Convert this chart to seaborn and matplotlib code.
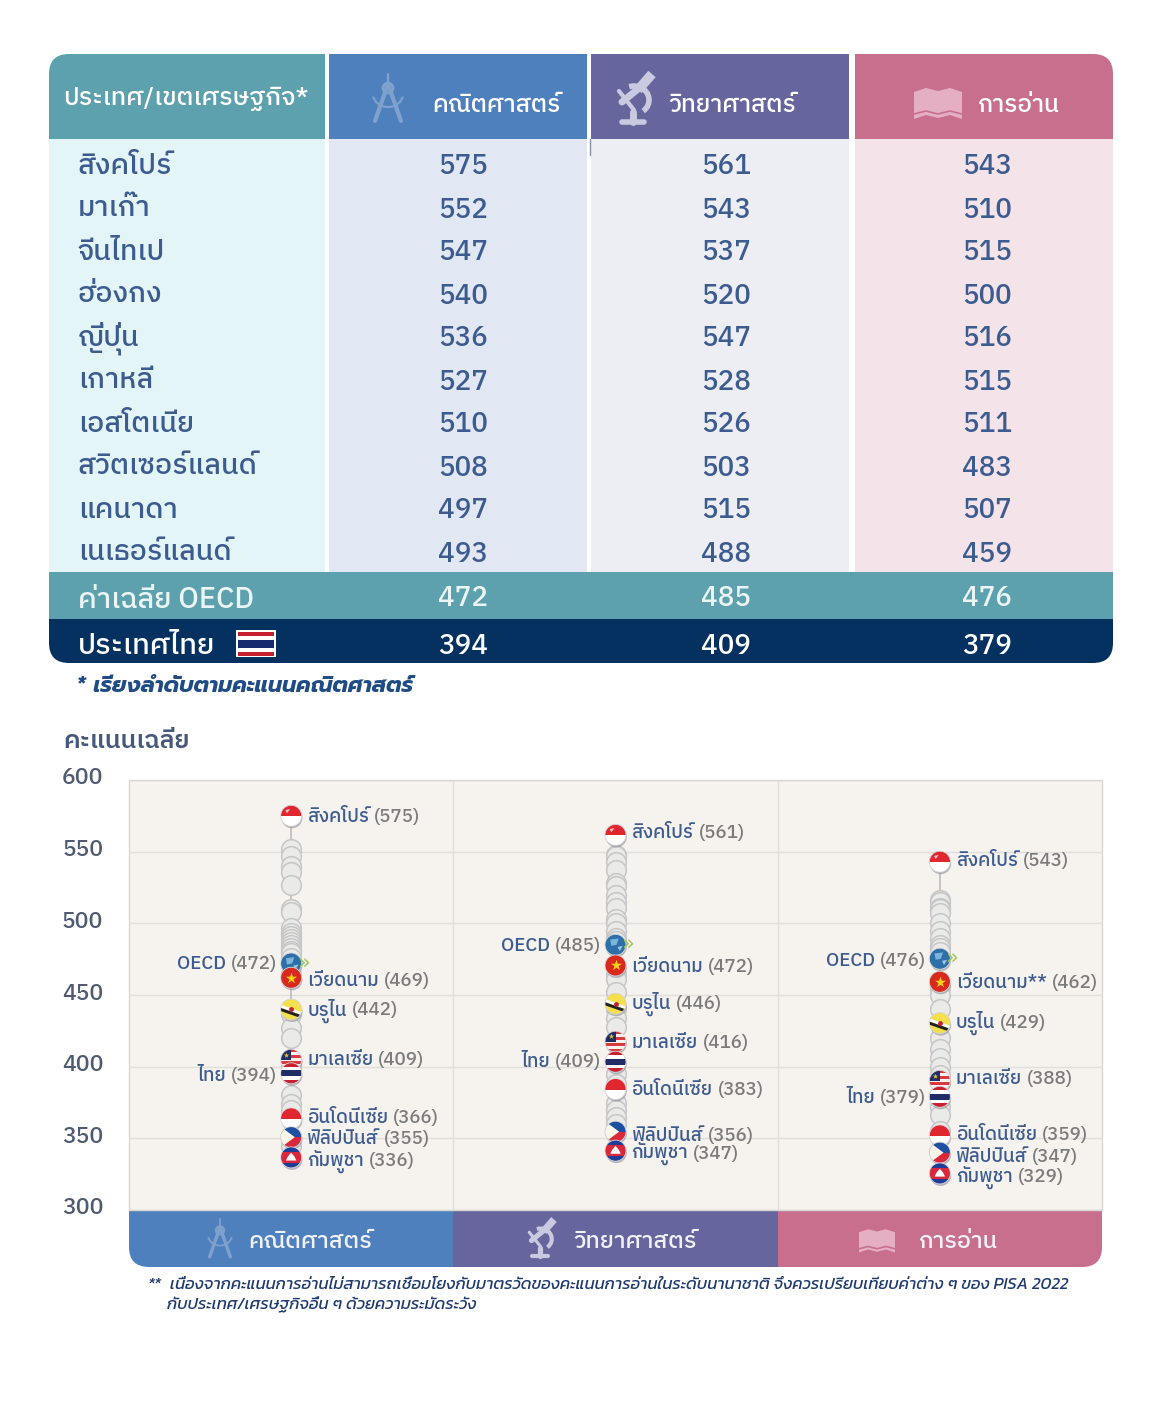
import matplotlib
matplotlib.use('Agg')
import matplotlib.pyplot as plt
from matplotlib.patches import Rectangle, FancyBboxPatch, Polygon, Ellipse, Arc, Circle
import matplotlib.transforms as mtrans
import pandas as pd
import seaborn as sns

# table data
subjects = ['คณิตศาสตร์', 'วิทยาศาสตร์', 'การอ่าน']
countries = ['สิงคโปร์', 'มาเก๊า', 'จีนไทเป', 'ฮ่องกง', 'ญี่ปุ่น', 'เกาหลี', 'เอสโตเนีย',
             'สวิตเซอร์แลนด์', 'แคนาดา', 'เนเธอร์แลนด์']
math_scores = [575, 552, 547, 540, 536, 527, 510, 508, 497, 493]
science_scores = [561, 543, 537, 520, 547, 528, 526, 503, 515, 488]
reading_scores = [543, 510, 515, 500, 516, 515, 511, 483, 507, 459]
oecd_scores = [472, 485, 476]
thai_scores = [394, 409, 379]

# unnamed grey circles of the dot columns
math_grey = [552, 547, 540, 536, 527, 510, 508, 497, 493, 491, 489, 487, 485, 483, 481, 479, 476,
             465, 437, 427, 420, 400, 380, 374, 370, 350, 345]
science_grey = [548, 547, 543, 537, 528, 526, 520, 515, 511, 503, 500, 495, 490, 488, 465, 461,
                452, 440, 434, 428, 395, 388, 375, 370, 365, 360]
reading_grey = [516, 515, 511, 510, 507, 500, 495, 490, 485, 483, 480, 455, 450, 440, 420, 412,
                406, 400, 394, 372, 366, 355]

# highlighted flags
flag_keys = ['sg', 'oecd', 'vn', 'bn', 'my', 'th', 'id', 'ph', 'kh']
flag_names = ['สิงคโปร์', 'OECD', 'เวียดนาม', 'บรูไน', 'มาเลเซีย', 'ไทย', 'อินโดนีเซีย', 'ฟิลิปปินส์', 'กัมพูชา']
flag_math = [575, 472, 469, 442, 409, 394, 366, 355, 336]
flag_science = [561, 485, 472, 446, 416, 409, 383, 356, 347]
flag_reading = [543, 476, 462, 429, 388, 379, 359, 347, 329]

# hand nudges of the infographic, pixels down
flag_nudge = [[0, 0, 10, 3, 6, -2, 3, 6, -1],
              [-1, 0, 2, 3, -2, 8, -2, 2, 8],
              [0, 1, 4, -2, -3, 0, 10, 10, 5]]
label_nudge = [[1, 1, 13, 4, 6, 1, 3, 8, 3],
               [-3, 1, 4, 3, -1, 8, -1, 6, 11],
               [-1, 3, 5, -2, -5, 1, 10, 14, 9]]

W, H = 1162, 1410
TEAL = '#5CA1AD'
BLUE = '#4F80BE'
PURPLE = '#66659E'
PINK = '#C86F8E'
NAVY = '#04315F'
TXT = '#3C5C90'
GREY = '#7B7B7B'
FONT = ['IBM Plex Sans Thai', 'DejaVu Sans']
ITALIC = ['Prompt', 'DejaVu Sans']
NOTE = ['Kanit', 'DejaVu Sans']

sns.set_theme(style='white')
plt.rcParams['font.family'] = FONT

fig = plt.figure(figsize=(W / 100, H / 100), dpi=100, facecolor='white')
bg = fig.add_axes([0, 0, 1, 1], zorder=0)
bg.set_xlim(0, W)
bg.set_ylim(H, 0)
bg.axis('off')


def clipped_rects(rects, x0, y0, x1, y1, r):
    clip = FancyBboxPatch((x0, y0), x1 - x0, y1 - y0, boxstyle=f'round,pad=0,rounding_size={r}',
                          fc='none', ec='none')
    bg.add_patch(clip)
    for (a, b, c, d, col) in rects:
        p = Rectangle((a, b), c - a, d - b, fc=col, ec='none')
        bg.add_patch(p)
        p.set_clip_path(clip)


def draw_compass(cx, cy, s, col):
    bg.plot([cx, cx - 13 * s], [cy - 16 * s, cy + 21 * s], color=col, lw=3 * s, solid_capstyle='round')
    bg.plot([cx, cx + 13 * s], [cy - 16 * s, cy + 21 * s], color=col, lw=3 * s, solid_capstyle='round')
    bg.plot([cx, cx], [cy - 26 * s, cy - 14 * s], color=col, lw=1.6 * s)
    bg.add_patch(Circle((cx, cy - 12 * s), 5 * s, fc='none', ec=col, lw=2 * s))
    bg.add_patch(Arc((cx, cy - 6 * s), 30 * s, 26 * s, theta1=10, theta2=170, ec=col, lw=1.6 * s))


def draw_microscope(cx, cy, s, col):
    bg.plot([cx - 14 * s, cx + 8 * s], [cy + 22 * s, cy + 22 * s], color=col, lw=4 * s, solid_capstyle='round')
    bg.plot([cx - 3 * s, cx - 3 * s], [cy + 12 * s, cy + 22 * s], color=col, lw=5 * s)
    bg.add_patch(Arc((cx - 2 * s, cy), 30 * s, 28 * s, theta1=-110, theta2=50, ec=col, lw=4 * s))
    bg.plot([cx + 2 * s, cx + 16 * s], [cy - 10 * s, cy - 26 * s], color=col, lw=7 * s, solid_capstyle='butt')
    bg.plot([cx - 14 * s, cx + 2 * s], [cy + 2 * s, cy - 11 * s], color=col, lw=5 * s, solid_capstyle='round')
    bg.plot([cx - 17 * s, cx - 2 * s], [cy - 9 * s, cy + 10 * s], color=col, lw=3 * s, solid_capstyle='round')


def draw_book(cx, cy, s, col, line):
    left = [(cx - 24 * s, cy - 13 * s), (cx - 12 * s, cy - 17 * s), (cx, cy - 14 * s),
            (cx, cy + 13 * s), (cx - 12 * s, cy + 10 * s), (cx - 24 * s, cy + 14 * s)]
    right = [(2 * cx - a, b) for a, b in left]
    bg.add_patch(Polygon(left, fc=col, ec='none'))
    bg.add_patch(Polygon(right, fc=col, ec='none'))
    bg.plot([cx - 24 * s, cx - 12 * s, cx, cx + 12 * s, cx + 24 * s],
            [cy + 9 * s, cy + 6 * s, cy + 9 * s, cy + 6 * s, cy + 9 * s], color=line, lw=1.2)


# table blocks
col_x = [(49, 325), (329, 587), (591, 849), (855, 1113)]
head_cols = [TEAL, BLUE, PURPLE, PINK]
body_cols = ['#E3F5F7', '#E1E7F3', '#ECEEF4', '#F5E3EA']
rects = []
for (a, c), hc, bc in zip(col_x, head_cols, body_cols):
    rects.append((a, 54, c, 139, hc))
    rects.append((a, 139, c, 572, bc))
rects.append((49, 572, 1113, 619, TEAL))
rects.append((49, 619, 1113, 663, NAVY))
clipped_rects(rects, 49, 54, 1113, 663, 20)
bg.plot([590, 590], [139, 155], color='#8A8FA8', lw=1)

bg.text(63, 99, 'ประเทศ/เขตเศรษฐกิจ*', color='white', fontsize=18.2, weight=500, va='center')
for name, x in zip(subjects, [432, 668, 978]):
    bg.text(x, 105, name, color='white', fontsize=17.5, weight=500, va='center')
draw_compass(388, 100, 1.0, '#7FA1CD')
draw_microscope(636, 100, 1.0, '#C9CADF')
draw_book(938, 105, 1.0, '#E4AFC3', PINK)

row_y = [164 + 43 * i for i in range(10)]
num_x = [463, 726, 987]
for y, name, row in zip(row_y, countries, zip(math_scores, science_scores, reading_scores)):
    bg.text(78, y + 2, name, color=TXT, fontsize=20.5, weight=500, va='center')
    for x, v in zip(num_x, row):
        bg.text(x, y + 3, str(v), color=TXT, fontsize=20, weight=500, ha='center', va='center')

bg.text(78, 600, 'ค่าเฉลี่ย OECD', color='#EAF5F6', fontsize=20.7, weight=500, va='center')
bg.text(78, 646, 'ประเทศไทย', color='white', fontsize=21, weight=500, va='center')
for x, a, b in zip(num_x, oecd_scores, thai_scores):
    bg.text(x, 598, str(a), color='#EAF5F6', fontsize=20, weight=500, ha='center', va='center')
    bg.text(x, 646, str(b), color='white', fontsize=20, weight=500, ha='center', va='center')

# thai flag in the last row
bg.add_patch(Rectangle((236, 630), 40, 27, fc='white', ec='none'))
for a, b, col in [(632, 636, '#C8202F'), (640, 648, '#152B6E'), (652, 656, '#C8202F')]:
    bg.add_patch(Rectangle((238, a), 36, b - a, fc=col, ec='none'))

bg.text(76, 687, '* เรียงลำดับตามคะแนนคณิตศาสตร์', color='#1F4C85', fontsize=15.9, weight=700,
        style='italic', va='center', family=ITALIC)
bg.text(63, 742, 'คะแนนเฉลี่ย', color='#47597A', fontsize=18, weight=600, va='center')

# bottom band of the dot chart
clipped_rects([(129, 1195, 453, 1267, BLUE), (453, 1195, 778, 1267, PURPLE), (778, 1195, 1102, 1267, PINK)],
              129, 1180, 1102, 1267, 20)
for name, x in zip(subjects, [248, 573, 918]):
    bg.text(x, 1242, name, color='#F1F2F8', fontsize=16.8, weight=500, va='center')
draw_compass(220, 1240, 0.8, '#7FA1CD')
draw_microscope(542, 1239, 0.75, '#C9CADF')
draw_book(877, 1242, 0.75, '#E4AFC3', PINK)

bg.text(148, 1285, '**', color='#1E3A6E', fontsize=12, style='italic', va='center', family=NOTE)
bg.text(170, 1285, 'เนื่องจากคะแนนการอ่านไม่สามารถเชื่อมโยงกับมาตรวัดของคะแนนการอ่านในระดับนานาชาติ '
        'จึงควรเปรียบเทียบค่าต่าง ๆ ของ PISA 2022', color='#1E3A6E', fontsize=12.0, style='italic',
        va='center', family=NOTE)
bg.text(167, 1305, 'กับประเทศ/เศรษฐกิจอื่น ๆ ด้วยความระมัดระวัง', color='#1E3A6E', fontsize=12.0,
        style='italic', va='center', family=NOTE)

# dot chart
ax = fig.add_axes([129 / W, 1 - 1210 / H, 973 / W, 430 / H], zorder=1, facecolor='#F6F2EE')
grey_df = pd.concat([pd.DataFrame({'subject': i, 'score': vals})
                     for i, vals in enumerate([math_grey, science_grey, reading_grey])])
flag_scores = [flag_math, flag_science, flag_reading]
for i, vals in enumerate(flag_scores):
    ax.vlines(i, min(vals), max(vals), color='#BDBDBD', lw=1.2, zorder=2)
sns.scatterplot(data=grey_df, x='subject', y='score', ax=ax, s=200, color='#EAEAE8',
                edgecolor='#C6C6C6', linewidth=1.1, zorder=3, legend=False)
ax.set_xlim(-0.5, 2.5)
ax.set_ylim(300, 600)
ax.set_xticks([])
ax.set_yticks([300, 350, 400, 450, 500, 550, 600])
ax.set_xlabel('')
ax.set_ylabel('')
ax.tick_params(axis='y', length=0, pad=18.5, labelsize=16.5, labelcolor='#4F5B70')
shift = mtrans.ScaledTranslation(0, 4 / 100, fig.dpi_scale_trans)
for lab in ax.get_yticklabels():
    lab.set_transform(lab.get_transform() + shift)
    lab.set_fontweight(500)
ax.grid(axis='y', color='#E1DFDB', lw=1)
ax.set_axisbelow(True)
for xv in [0.5, 1.5]:
    ax.axvline(xv, color='#E1DFDB', lw=1, zorder=1)
for sp in ax.spines.values():
    sp.set_color('#D9D7D3')
    sp.set_linewidth(1)

RX = 10.5 * 3 / 973
RY = 10.5 * 300 / 430
PX_Y = 300 / 430
PX_X = 3 / 973


def draw_flag(key, x, y, z):
    clip = Ellipse((x, y), 2 * RX, 2 * RY, transform=ax.transData, fc='none', ec='none')
    ax.add_patch(clip)

    def band(top, bottom, col):
        # top and bottom are fractions of the disc from -1 (upper) to 1 (lower)
        p = Rectangle((x - RX, y - bottom * RY), 2 * RX, (bottom - top) * RY, fc=col, ec='none', zorder=z)
        ax.add_patch(p)
        p.set_clip_path(clip)

    def poly(points, col, zz=0.1):
        p = Polygon([(x + a * RX, y - b * RY) for a, b in points], fc=col, ec='none', zorder=z + zz)
        ax.add_patch(p)
        p.set_clip_path(clip)

    if key in ('sg', 'id'):
        band(-1, 0.05, '#E0262E')
        band(0.05, 1, 'white')
        if key == 'sg':
            poly([(-0.55, -0.55), (-0.1, -0.65), (-0.4, -0.25)], '#F6C6C6')
    elif key == 'vn':
        band(-1, 1, '#D9281E')
        ax.scatter([x], [y], marker='*', s=70, color='#FBD116', zorder=z + 0.1, linewidths=0)
    elif key == 'bn':
        band(-1, 1, '#F5DF4D')
        poly([(-1, -0.45), (1, 0.25), (1, 0.55), (-1, -0.15)], 'white')
        poly([(-1, -0.15), (1, 0.55), (1, 0.85), (-1, 0.15)], '#222222')
        ax.scatter([x], [y], s=12, color='#C8202F', zorder=z + 0.2, linewidths=0)
    elif key == 'my':
        for k in range(7):
            band(-1 + k * 2 / 7, -1 + (k + 1) * 2 / 7, '#D93A3E' if k % 2 == 0 else '#F7F0F0')
        poly([(-1, -1), (0, -1), (0, 0), (-1, 0)], '#1D2F66')
        ax.scatter([x - 0.45 * RX], [y + 0.5 * RY], marker='*', s=16, color='#F4C430', zorder=z + 0.2, linewidths=0)
    elif key == 'th':
        band(-1, -0.62, '#C8202F')
        band(-0.62, -0.3, 'white')
        band(-0.3, 0.3, '#1F2C66')
        band(0.3, 0.62, 'white')
        band(0.62, 1, '#C8202F')
    elif key == 'ph':
        band(-1, 0, '#1F4FA3')
        band(0, 1, '#D9283A')
        poly([(-1, -1), (0.35, 0), (-1, 1)], '#F8F6E8')
    elif key == 'kh':
        band(-1, -0.5, '#1F3C96')
        band(-0.5, 0.5, '#D9283A')
        band(0.5, 1, '#1F3C96')
        poly([(-0.5, 0.3), (-0.3, -0.1), (0, -0.45), (0.3, -0.1), (0.5, 0.3)], 'white')
    elif key == 'oecd':
        band(-1, 1, '#2D6FA8')
        poly([(-0.5, -0.5), (0.3, -0.6), (0.1, 0), (-0.4, 0.1)], '#7FB3D8')
        poly([(0.2, 0.2), (0.7, 0.1), (0.4, 0.6)], '#9CC5E2')
    ax.add_patch(Ellipse((x, y), 2 * RX, 2 * RY, fc='none', ec='#D5D5D8', lw=0.6, zorder=z + 0.3))


def score_label(name, score, i, value, nudge, left):
    off_y = -nudge * 0.72
    num = f'({score})'
    size = 13.5
    rend = fig.canvas.get_renderer()
    if left:
        t = ax.annotate(num, (i, value), xytext=(-14 * 0.72, off_y), textcoords='offset points',
                        ha='right', va='center', color=GREY, fontsize=size, weight=500)
        w = t.get_window_extent(rend).width
        ax.annotate(name, (i, value), xytext=((-14 - w - 5) * 0.72, off_y), textcoords='offset points',
                    ha='right', va='center', color=TXT, fontsize=size, weight=500)
    else:
        t = ax.annotate(name, (i, value), xytext=(16 * 0.72, off_y), textcoords='offset points',
                        ha='left', va='center', color=TXT, fontsize=size, weight=500)
        w = t.get_window_extent(rend).width
        ax.annotate(num, (i, value), xytext=((16 + w + 5) * 0.72, off_y), textcoords='offset points',
                    ha='left', va='center', color=GREY, fontsize=size, weight=500)


for i, vals in enumerate(flag_scores):
    for j, (key, name, v) in enumerate(zip(flag_keys, flag_names, vals)):
        yy = v - flag_nudge[i][j] * PX_Y
        draw_flag(key, i, yy, 5 + j)
        # soft shadow under the disc
        ax.add_patch(Ellipse((i + 0.8 * PX_X, yy - 2 * PX_Y), 2 * RX, 2 * RY, fc='#8C8C9A', ec='none',
                             alpha=0.6, zorder=4.5 + j))
        if key == 'vn' and i == 2:
            name = name + '**'
        score_label(name, v, i, v, label_nudge[i][j], key in ('oecd', 'th'))
        if key == 'oecd':
            ax.annotate('»', (i, v), xytext=(13 * 0.72, -flag_nudge[i][j] * 0.72 + 1), textcoords='offset points',
                        ha='center', va='center', color='#9CC45A', fontsize=15, family='DejaVu Sans',
                        zorder=20)

fig.savefig('out.png', dpi=100)
